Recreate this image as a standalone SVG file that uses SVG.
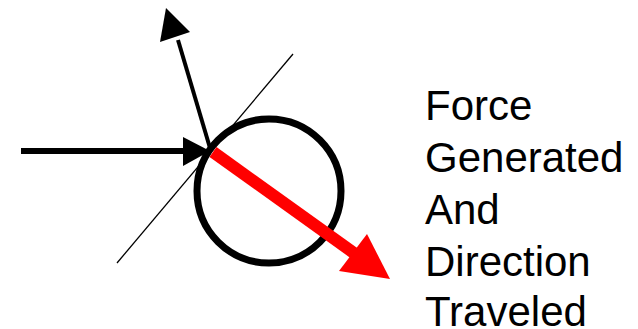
<svg xmlns="http://www.w3.org/2000/svg" width="638" height="329" viewBox="0 0 638 329">
<style>
.lbl{font-family:"Liberation Sans",Arial,sans-serif;font-size:42px;fill:#000}
</style>
<rect width="638" height="329" fill="#fff"/>
<g id="tangent-line">
<line x1="117" y1="263" x2="293" y2="54" stroke="#000" stroke-width="1.3"/>
</g>
<g id="ball">
<circle cx="269" cy="191" r="72" fill="none" stroke="#000" stroke-width="7"/>
</g>
<g id="connectors">
<line x1="21" y1="151" x2="186" y2="151" stroke="#000" stroke-width="6"/>
<polygon points="183,137 210,151 183,166" fill="#000"/>
<line x1="210" y1="148" x2="178" y2="40" stroke="#000" stroke-width="4"/>
<polygon points="166,8 190,32 160,42" fill="#000"/>
<line x1="213" y1="152" x2="358" y2="256" stroke="#f00" stroke-width="12"/>
<polygon points="367,234 390,279 339,271" fill="#f00"/>
</g>
<g id="label">
<text class="lbl" x="425" y="120">Force</text>
<text class="lbl" x="425" y="172">Generated</text>
<text class="lbl" x="425" y="224">And</text>
<text class="lbl" x="425" y="276">Direction</text>
<text class="lbl" x="425" y="326">Traveled</text>
</g>
</svg>
